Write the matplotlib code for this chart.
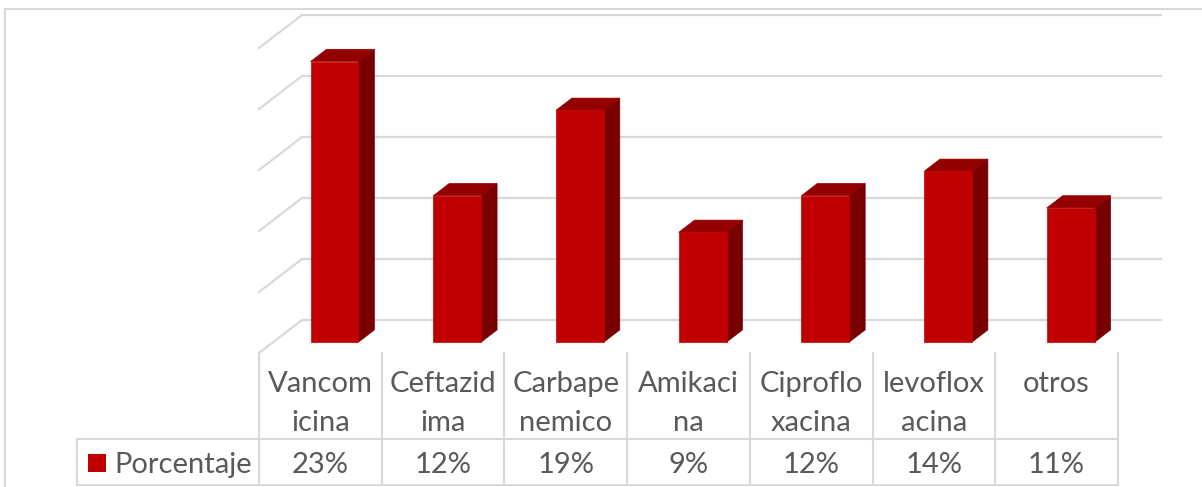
import matplotlib
matplotlib.use("Agg")
import matplotlib.pyplot as plt
from matplotlib.patches import Polygon, Rectangle
import numpy as np

# data
categories = [["Vancom", "icina"], ["Ceftazid", "ima"], ["Carbape", "nemico"],
              ["Amikaci", "na"], ["Ciproflo", "xacina"], ["levoflox", "acina"],
              ["otros"]]
values = [23, 12, 19, 9, 12, 14, 11]
series_name = "Porcentaje"
y_ticks = [0, 5, 10, 15, 20, 25]

plt.rcParams['font.family'] = ['Lato', 'DejaVu Sans']

W, H = 1202, 487
X0_PX, COL_PX = 259, 122.7     # left of first column, column width
Y0_PX, PCT_PX = 353, 12.2      # front floor line, pixels per percent
DX, DY = 43 / COL_PX, 33 / PCT_PX   # depth vector of the plot box
D1, D2 = 0.33, 0.70            # bar depth range
BW = 0.39

GRID = '#D9D9D9'
TXT = '#595959'
FRONT, TOP, SIDE = '#C00000', '#940000', '#780000'

fig = plt.figure(figsize=(W / 100, H / 100), dpi=100)
ax = fig.add_axes([0, 0, 1, 1])
ax.set_xlim(-X0_PX / COL_PX, (W - X0_PX) / COL_PX)
ax.set_ylim((Y0_PX - H) / PCT_PX, Y0_PX / PCT_PX)
ax.axis('off')

n = len(values)

def fy(py):
    return 1 - py / H

def fx(px):
    return px / W

# outer frame
ax.add_patch(Rectangle((fx(5), -0.1), 1.2, fy(9) + 0.1, transform=ax.transAxes,
                       fill=False, ec=GRID, lw=1.5, zorder=0))

# gridlines: back wall and left wall
for t in y_ticks:
    ax.plot([DX, n + DX], [t + DY, t + DY], color=GRID, lw=1.6, zorder=1)
    ax.plot([0, DX], [t, t + DY], color=GRID, lw=1.6, zorder=1)

# bars
for i, v in enumerate(values):
    xl = i + 0.5 - BW / 2
    xr = i + 0.5 + BW / 2
    fx0, fy0 = D1 * DX, D1 * DY
    bx0, by0 = D2 * DX, D2 * DY
    front = [(xl + fx0, fy0), (xr + fx0, fy0), (xr + fx0, v + fy0), (xl + fx0, v + fy0)]
    side = [(xr + fx0, fy0), (xr + bx0, by0), (xr + bx0, v + by0), (xr + fx0, v + fy0)]
    top = [(xl + fx0, v + fy0), (xr + fx0, v + fy0), (xr + bx0, v + by0), (xl + bx0, v + by0)]
    ax.add_patch(Polygon(side, closed=True, fc=SIDE, ec=SIDE, lw=0.5, zorder=3))
    ax.add_patch(Polygon(top, closed=True, fc=TOP, ec=TOP, lw=0.5, zorder=3))
    ax.add_patch(Polygon(front, closed=True, fc=FRONT, ec=FRONT, lw=0.5, zorder=4))

# data table
xt = ax.get_xaxis_transform()
for i in range(n + 1):
    ax.plot([i, i], [fy(Y0_PX), fy(485)], transform=xt, color=GRID, lw=1.5, zorder=1)
x_left = (77 - X0_PX) / COL_PX
for py in (439, 485):
    ax.plot([x_left, n], [fy(py), fy(py)], transform=xt, color=GRID, lw=1.5, zorder=1)
ax.plot([x_left, x_left], [fy(439), fy(485)], transform=xt, color=GRID, lw=1.5, zorder=1)

fs = 21
for i, lines in enumerate(categories):
    for j, line in enumerate(lines):
        ax.text(i + 0.5, fy(392 + 39 * j), line, transform=xt, ha='center',
                va='baseline', fontsize=fs, color=TXT)
    ax.text(i + 0.5, fy(473), f"{values[i]}%", transform=xt, ha='center',
            va='baseline', fontsize=fs, color=TXT)

ax.add_patch(Rectangle((fx(88), fy(472)), fx(18), 18 / H, transform=ax.transAxes,
                       fc=FRONT, ec='none'))
ax.text(fx(114), fy(473), series_name, transform=ax.transAxes, ha='left',
        va='baseline', fontsize=fs, color=TXT)

fig.savefig("out.png", dpi=100)
